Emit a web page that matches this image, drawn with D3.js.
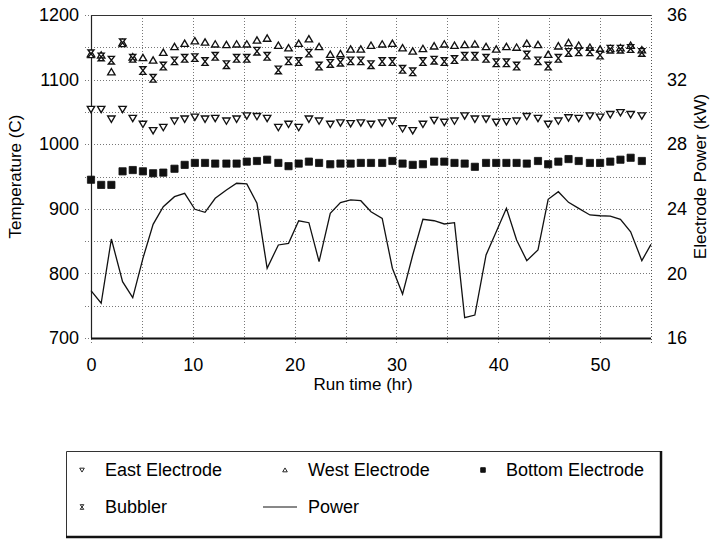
<!DOCTYPE html>
<html>
<head>
<meta charset="utf-8">
<script src="https://cdn.jsdelivr.net/npm/d3@7/dist/d3.min.js"></script>
<style>
  html, body { margin: 0; padding: 0; background: #fff; }
  svg { display: block; font-family: "Liberation Sans", Arial, sans-serif; }
</style>
</head>
<body>
<svg id="chart" width="712" height="539"></svg>
<script>
// Run time of each reading (hr)
const runTime = [0, 1.0, 2.0, 3.1, 4.1, 5.1, 6.1, 7.1, 8.2, 9.2, 10.2, 11.2, 12.2, 13.3, 14.3,
  15.3, 16.3, 17.3, 18.4, 19.4, 20.4, 21.4, 22.4, 23.5, 24.5, 25.5, 26.5, 27.5, 28.6, 29.6,
  30.6, 31.6, 32.6, 33.7, 34.7, 35.7, 36.7, 37.7, 38.8, 39.8, 40.8, 41.8, 42.8, 43.9, 44.9,
  45.9, 46.9, 47.9, 49.0, 50.0, 51.0, 52.0, 53.0, 54.1, 55.0];

// Electrode and bubbler temperatures (C)
const eastElectrode = [1054, 1054, 1039, 1054, 1040, 1031, 1021, 1026, 1036, 1039, 1042, 1039, 1040,
  1036, 1039, 1044, 1043, 1040, 1026, 1031, 1026, 1039, 1036, 1031, 1033, 1032, 1033, 1031, 1033,
  1036, 1024, 1021, 1031, 1037, 1034, 1036, 1044, 1039, 1039, 1034, 1035, 1036, 1043, 1040, 1031,
  1036, 1041, 1040, 1044, 1042, 1046, 1049, 1046, 1044, null];
const westElectrode = [1140, 1138, 1112, 1157, 1135, 1134, 1130, 1142, 1151, 1156, 1160, 1158, 1155,
  1154, 1155, 1155, 1161, 1164, 1153, 1149, 1156, 1163, 1151, 1139, 1140, 1147, 1147, 1153, 1155,
  1156, 1149, 1144, 1148, 1152, 1155, 1153, 1154, 1155, 1151, 1147, 1151, 1150, 1156, 1154, 1139,
  1152, 1157, 1153, 1150, 1147, 1148, 1149, 1153, 1146, null];
const bottomElectrode = [945, 937, 937, 958, 960, 958, 955, 956, 962, 968, 971, 971, 970, 970, 970,
  973, 974, 976, 971, 966, 970, 973, 971, 969, 970, 970, 971, 971, 971, 974, 970, 968, 969, 973,
  973, 971, 970, 965, 971, 971, 971, 971, 970, 974, 969, 973, 977, 974, 971, 971, 973, 976, 979,
  974, null];
const bubbler = [1140, 1135, 1130, 1157, 1133, 1114, 1102, 1121, 1129, 1133, 1134, 1128, 1136, 1123,
  1133, 1133, 1144, 1136, 1115, 1129, 1128, 1141, 1121, 1125, 1127, 1129, 1129, 1123, 1128, 1128,
  1116, 1112, 1128, 1130, 1128, 1131, 1136, 1136, 1133, 1126, 1126, 1121, 1138, 1129, 1121, 1133,
  1142, 1143, 1143, 1138, 1147, 1147, 1148, 1142, null];

// Electrode power (kW)
const power = [18.93, 18.15, 22.13, 19.49, 18.5, 20.93, 23.04, 24.13, 24.75, 24.96, 23.97, 23.78,
  24.65, 25.16, 25.58, 25.54, 24.34, 20.32, 21.76, 21.86, 23.26, 23.14, 20.73, 23.72, 24.38, 24.55,
  24.5, 23.82, 23.41, 20.32, 18.72, 21.14, 23.35, 23.26, 23.06, 23.14, 17.26, 17.42, 21.14, 22.58,
  24.03, 22.07, 20.79, 21.45, 24.59, 25.06, 24.4, 24.03, 23.62, 23.57, 23.55, 23.35, 22.58, 20.79,
  21.8];

// Axis ticks
const timeTicks = [0, 10, 20, 30, 40, 50];
const timeGrid = [0, 5, 10, 15, 20, 25, 30, 35, 40, 45, 50, 55];
const tempTicks = [700, 800, 900, 1000, 1100, 1200];
const tempGrid = [700, 750, 800, 850, 900, 950, 1000, 1050, 1100, 1150, 1200];
const powerTicks = [16, 20, 24, 28, 32, 36];

const svg = d3.select("#chart");
const plot = { left: 91, right: 651, top: 15, bottom: 338 };

const x = d3.scaleLinear().domain([0, 55]).range([plot.left, plot.right]);
const yT = d3.scaleLinear().domain([700, 1200]).range([plot.bottom, plot.top]);
const yP = d3.scaleLinear().domain([16, 36]).range([plot.bottom, plot.top]);

// Dotted grid
const grid = svg.append("g").attr("stroke", "#777").attr("stroke-width", 1)
  .attr("stroke-dasharray", "1,2").attr("fill", "none");
grid.selectAll("line.h").data(tempGrid).join("line")
  .attr("x1", plot.left - 6).attr("x2", plot.right)
  .attr("y1", d => Math.round(yT(d)) + 0.5).attr("y2", d => Math.round(yT(d)) + 0.5);
grid.selectAll("line.v").data(timeGrid).join("line")
  .attr("x1", d => Math.round(x(d)) + 0.5).attr("x2", d => Math.round(x(d)) + 0.5)
  .attr("y1", plot.top).attr("y2", plot.bottom + 6);

// Plot frame
svg.append("line").attr("x1", plot.left + 0.5).attr("x2", plot.left + 0.5)
  .attr("y1", plot.top).attr("y2", plot.bottom).attr("stroke", "#222").attr("stroke-width", 1.2);
svg.append("line").attr("x1", plot.left).attr("x2", plot.right)
  .attr("y1", plot.bottom + 0.5).attr("y2", plot.bottom + 0.5).attr("stroke", "#111").attr("stroke-width", 1.8);
svg.append("line").attr("x1", plot.left).attr("x2", plot.right)
  .attr("y1", plot.top + 0.5).attr("y2", plot.top + 0.5).attr("stroke", "#333").attr("stroke-width", 1.2);
svg.append("line").attr("x1", plot.right + 0.5).attr("x2", plot.right + 0.5)
  .attr("y1", plot.top).attr("y2", plot.bottom + 6).attr("stroke", "#555")
  .attr("stroke-width", 1).attr("stroke-dasharray", "1,2");

// Axes (labels only; the frame and grid are drawn above)
const fontSize = 18;
const axisBottom = svg.append("g").attr("transform", `translate(0,${plot.bottom})`)
  .call(d3.axisBottom(x).tickValues(timeTicks).tickSize(0).tickPadding(20).tickFormat(d3.format("d")));
const axisLeft = svg.append("g").attr("transform", `translate(${plot.left},0)`)
  .call(d3.axisLeft(yT).tickValues(tempTicks).tickSize(0).tickPadding(12).tickFormat(d3.format("d")));
const axisRight = svg.append("g").attr("transform", `translate(${plot.right},0)`)
  .call(d3.axisRight(yP).tickValues(powerTicks).tickSize(0).tickPadding(16).tickFormat(d3.format("d")));
[axisBottom, axisLeft, axisRight].forEach(a => {
  a.select(".domain").remove();
  a.selectAll("text").attr("font-size", fontSize).attr("fill", "#000")
    .attr("font-family", "'Liberation Sans', Arial, sans-serif");
});

// Axis titles
svg.append("text").attr("x", (plot.left + plot.right) / 2 - 8).attr("y", 390)
  .attr("text-anchor", "middle").attr("font-size", 17).text("Run time (hr)");
svg.append("text").attr("transform", `translate(21,${(plot.top + plot.bottom) / 2}) rotate(-90)`)
  .attr("text-anchor", "middle").attr("font-size", 17).text("Temperature (C)");
svg.append("text").attr("transform", `translate(706,${(plot.top + plot.bottom) / 2}) rotate(-90)`)
  .attr("text-anchor", "middle").attr("font-size", 17).text("Electrode Power (kW)");

// Marker shapes
const triDown = s => `M${-s},${-s * 0.8}L${s},${-s * 0.8}L0,${s * 0.9}Z`;
const triUp = s => `M${-s},${s * 0.8}L${s},${s * 0.8}L0,${-s * 0.9}Z`;
const hourglass = s => `M${-s * 0.8},${-s}L${s * 0.8},${-s}L${-s * 0.8},${s}L${s * 0.8},${s}Z`;
const square = s => `M${-s},${-s}H${s}V${s}H${-s}Z`;

function pts(values) {
  return values.map((v, i) => ({ t: runTime[i], v })).filter(d => d.v != null);
}

// Power line
const powerLine = d3.line().x(d => x(d.t)).y(d => yP(d.v));
svg.append("path").datum(pts(power)).attr("d", powerLine)
  .attr("fill", "none").attr("stroke", "#111").attr("stroke-width", 1.3);

// Temperature markers
function drawMarkers(values, shape, size, filled) {
  svg.append("g").selectAll("path").data(pts(values)).join("path")
    .attr("transform", d => `translate(${x(d.t)},${yT(d.v)})`)
    .attr("d", shape(size))
    .attr("fill", filled ? "#111" : "#fff")
    .attr("stroke", "#111").attr("stroke-width", filled ? 0.8 : 1.35)
    .attr("stroke-linejoin", "miter");
}
drawMarkers(bottomElectrode, square, 3.6, true);
drawMarkers(eastElectrode, triDown, 3.7, false);
drawMarkers(westElectrode, triUp, 3.7, false);
drawMarkers(bubbler, hourglass, 3.8, false);

// Legend
const box = { left: 66, top: 451, right: 661, bottom: 537 };
const lg = svg.append("g");
lg.append("rect").attr("x", box.left).attr("y", box.top)
  .attr("width", box.right - box.left).attr("height", box.bottom - box.top)
  .attr("fill", "#fff").attr("stroke", "none");
lg.append("path").attr("d", `M${box.left + 0.5},${box.bottom}V${box.top + 0.5}H${box.right}`)
  .attr("fill", "none").attr("stroke", "#333").attr("stroke-width", 1);
lg.append("path").attr("d", `M${box.right},${box.top}V${box.bottom}H${box.left}`)
  .attr("fill", "none").attr("stroke", "#111").attr("stroke-width", 2.5);

const legendItems = [
  { label: "East Electrode", shape: triDown, filled: false, x: 82, y: 470 },
  { label: "West Electrode", shape: triUp, filled: false, x: 285, y: 470 },
  { label: "Bottom Electrode", shape: square, filled: true, x: 483, y: 470 },
  { label: "Bubbler", shape: hourglass, filled: false, x: 82, y: 507 },
  { label: "Power", line: true, x: 285, y: 507 }
];
legendItems.forEach(it => {
  if (it.line) {
    lg.append("line").attr("x1", it.x - 22).attr("x2", it.x + 12)
      .attr("y1", it.y).attr("y2", it.y).attr("stroke", "#111").attr("stroke-width", 1);
  } else {
    lg.append("path").attr("transform", `translate(${it.x},${it.y})`)
      .attr("d", it.shape(2.3)).attr("fill", it.filled ? "#111" : "#fff")
      .attr("stroke", "#111").attr("stroke-width", 0.9);
  }
  lg.append("text").attr("x", it.x + 23).attr("y", it.y)
    .attr("dy", "0.35em").attr("font-size", 18).text(it.label);
});
</script>
</body>
</html>
